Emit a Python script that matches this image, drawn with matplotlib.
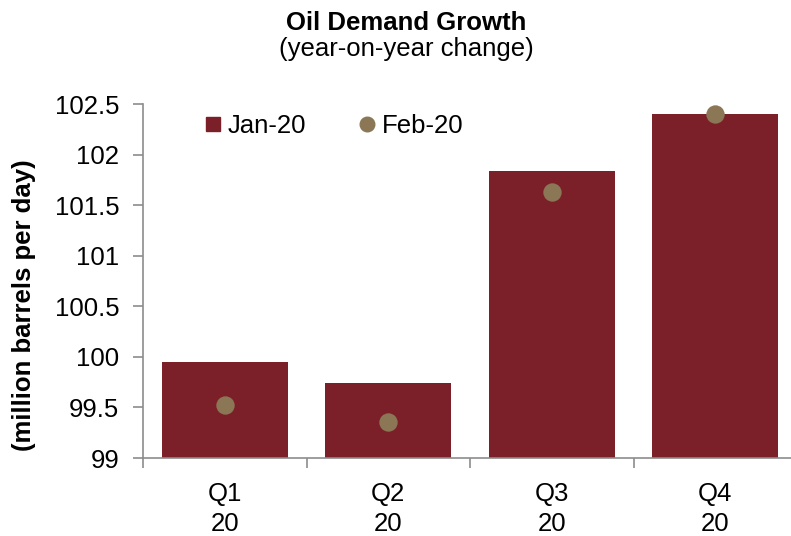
import matplotlib
matplotlib.use("Agg")
import matplotlib.pyplot as plt
from matplotlib.lines import Line2D
import numpy as np

categories = ["Q1\n20", "Q2\n20", "Q3\n20", "Q4\n20"]
jan20 = [99.95, 99.74, 101.84, 102.40]
feb20 = [99.52, 99.36, 101.63, 102.40]
yticks = [99, 99.5, 100, 100.5, 101, 101.5, 102, 102.5]
ytick_labels = ["99", "99.5", "100", "100.5", "101", "101.5", "102", "102.5"]

plt.rcParams['font.family'] = ['Liberation Sans', 'DejaVu Sans']

W, H = 791, 536
fig = plt.figure(figsize=(W/100, H/100), dpi=100)
left, right, top, bottom = 143, 797, 104, 458
ax = fig.add_axes([left/W, 1-bottom/H, (right-left)/W, (bottom-top)/H])

bar_color = "#7B2029"
dot_color = "#8B7755"
axis_color = "#8C8C8C"
FS = 18.5

x = np.arange(len(categories))
ax.bar(x, jan20, width=0.77, color=bar_color, zorder=2)
ax.scatter(x, feb20, s=175, color=dot_color, zorder=3, linewidths=0)

ax.set_xlim(-0.5, len(categories) - 0.5)
ax.set_ylim(99, 102.5)
ax.set_yticks(yticks)
ax.set_yticklabels(ytick_labels, fontsize=FS)
ax.set_xticks(x)
ax.set_xticklabels(categories, fontsize=FS, linespacing=1.35)
ax.set_xticks(np.arange(-0.5, len(categories)), minor=True)
ax.tick_params(axis='x', which='major', length=0, pad=17)
ax.tick_params(axis='x', which='minor', length=7, color=axis_color, width=1.2, direction='out')
ax.tick_params(axis='y', length=7, color=axis_color, width=1.2, direction='out', pad=10)

for s in ["top", "right"]:
    ax.spines[s].set_visible(False)
for s in ["left", "bottom"]:
    ax.spines[s].set_color(axis_color)
    ax.spines[s].set_linewidth(1.2)

ax.set_ylabel("(million barrels per day)", fontsize=FS, fontweight='bold')
ax.yaxis.set_label_coords(-0.163, 0.431)

fig.text(406/W, 1-23/H, "Oil Demand Growth", ha='center', va='center',
         fontsize=FS, fontweight='bold')
fig.text(406/W, 1-49/H, "(year-on-year change)", ha='center', va='center',
         fontsize=FS)

h_jan = Line2D([], [], marker='s', linestyle='none', color=bar_color, markersize=10)
h_feb = Line2D([], [], marker='o', linestyle='none', color=dot_color, markersize=10.5)
leg = ax.legend([h_jan, h_feb], ["Jan-20", "Feb-20"], loc='upper left',
                bbox_to_anchor=(0.06, 1.038), ncol=2, frameon=False,
                fontsize=FS, handlelength=0.6, handletextpad=0.25, columnspacing=2.1)

fig.savefig("out.png", dpi=100)
